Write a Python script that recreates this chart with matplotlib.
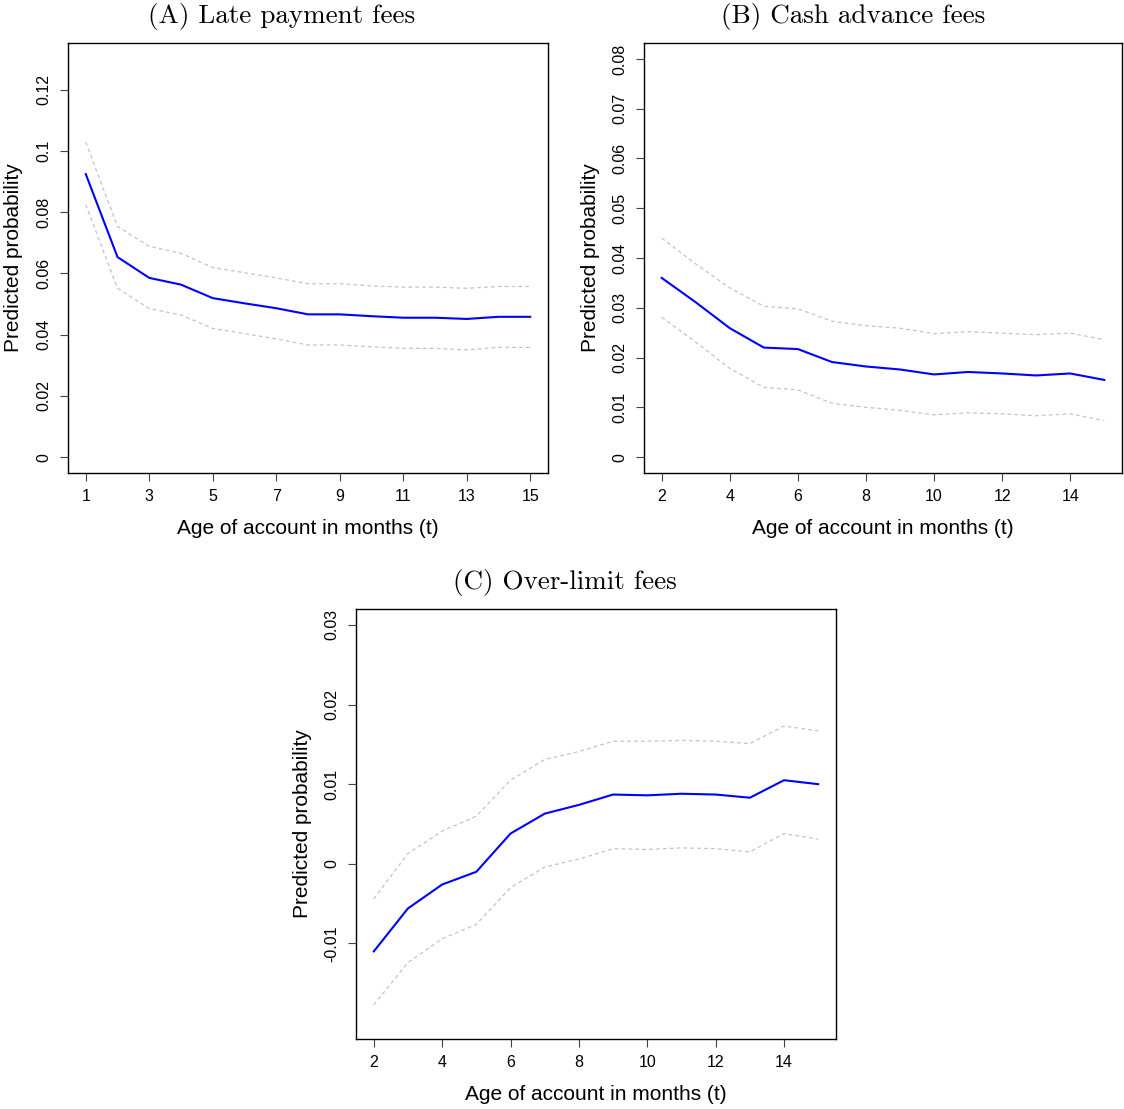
import matplotlib
matplotlib.use("Agg")
import matplotlib.pyplot as plt

plt.rcParams['font.family'] = ['Liberation Sans', 'DejaVu Sans']

# predicted probabilities by account age, with upper / lower bands
age_a = [1, 2, 3, 4, 5, 6, 7, 8, 9, 10, 11, 12, 13, 14, 15]
late_mean = [0.0924, 0.0653, 0.0585, 0.0563, 0.0519, 0.0502, 0.0486, 0.0466,
             0.0466, 0.0460, 0.0455, 0.0455, 0.0451, 0.0458, 0.0458]
late_hi = [0.1028, 0.0753, 0.0688, 0.0665, 0.0619, 0.0602, 0.0585, 0.0566,
           0.0566, 0.0559, 0.0555, 0.0555, 0.0551, 0.0557, 0.0557]
late_lo = [0.0824, 0.0551, 0.0485, 0.0464, 0.0420, 0.0403, 0.0386, 0.0366,
           0.0366, 0.0360, 0.0355, 0.0355, 0.0350, 0.0358, 0.0358]

age_b = [2, 3, 4, 5, 6, 7, 8, 9, 10, 11, 12, 13, 14, 15]
cash_mean = [0.0360, 0.0311, 0.0259, 0.0220, 0.0217, 0.0191, 0.0182, 0.0176,
             0.0166, 0.0171, 0.0168, 0.0164, 0.0168, 0.0155]
cash_hi = [0.0440, 0.0388, 0.0340, 0.0303, 0.0298, 0.0273, 0.0264, 0.0259,
           0.0248, 0.0252, 0.0249, 0.0246, 0.0249, 0.0236]
cash_lo = [0.0281, 0.0231, 0.0178, 0.0140, 0.0135, 0.0108, 0.0100, 0.0094,
           0.0085, 0.0089, 0.0087, 0.0083, 0.0087, 0.0073]

age_c = [2, 3, 4, 5, 6, 7, 8, 9, 10, 11, 12, 13, 14, 15]
over_mean = [-0.0110, -0.0056, -0.0026, -0.0010, 0.0038, 0.0063, 0.0074, 0.0087,
             0.0086, 0.0088, 0.0087, 0.0083, 0.0105, 0.0100]
over_hi = [-0.0044, 0.0013, 0.0041, 0.0060, 0.0105, 0.0131, 0.0141, 0.0154,
           0.0154, 0.0155, 0.0154, 0.0151, 0.0173, 0.0167]
over_lo = [-0.0177, -0.0124, -0.0094, -0.0076, -0.0030, -0.0004, 0.0006, 0.0019,
           0.0018, 0.0020, 0.0019, 0.0015, 0.0038, 0.0031]

titles = ["(A) Late payment fees", "(B) Cash advance fees", "(C) Over-limit fees"]
xticks = [[1, 3, 5, 7, 9, 11, 13, 15], [2, 4, 6, 8, 10, 12, 14], [2, 4, 6, 8, 10, 12, 14]]
yticks = [[0, 0.02, 0.04, 0.06, 0.08, 0.1, 0.12],
          [0, 0.01, 0.02, 0.03, 0.04, 0.05, 0.06, 0.07, 0.08],
          [-0.01, 0, 0.01, 0.02, 0.03]]
ytick_labels = [["0", "0.02", "0.04", "0.06", "0.08", "0.1", "0.12"],
                ["0", "0.01", "0.02", "0.03", "0.04", "0.05", "0.06", "0.07", "0.08"],
                ["-0.01", "0", "0.01", "0.02", "0.03"]]
yranges = [(0, 0.13), (0, 0.08), (-0.02, 0.03)]

W, H = 1124, 1109
fig = plt.figure(figsize=(W / 100, H / 100), dpi=100)


def box(l, t, w, h):
    return [l / W, 1 - (t + h) / H, w / W, h / H]


axes = [fig.add_axes(box(68, 43, 480, 430)),
        fig.add_axes(box(644, 43, 478, 430)),
        fig.add_axes(box(356, 609, 480, 430))]
# title centres in pixels (x, y from top)
title_pos = [(282, 16), (853, 16), (565, 582)]

series = [(age_a, late_mean, late_hi, late_lo),
          (age_b, cash_mean, cash_hi, cash_lo),
          (age_c, over_mean, over_hi, over_lo)]


def r_range(lo, hi):
    # R-style 4% padding on each side
    d = (hi - lo) * 0.04
    return lo - d, hi + d


for i, ax in enumerate(axes):
    x, m, hi, lo = series[i]
    ax.plot(x, hi, color='#c4c4c4', lw=0.9, ls=(0, (3, 2.5)))
    ax.plot(x, lo, color='#c4c4c4', lw=0.9, ls=(0, (3, 2.5)))
    ax.plot(x, m, color='#0000ff', lw=1.5)

    ax.set_xlim(*r_range(min(x), max(x)))
    ax.set_ylim(*r_range(*yranges[i]))
    ax.set_xticks(xticks[i])
    ax.set_yticks(yticks[i])
    ax.set_yticklabels(ytick_labels[i], rotation=90, va='center', ha='center')
    ax.tick_params(axis='both', length=5.5, width=0.8, color='#444444', labelsize=11.5)
    ax.tick_params(axis='x', pad=6.3)
    ax.tick_params(axis='y', pad=11.8)
    for s in ax.spines.values():
        s.set_linewidth(1.0)
        s.set_color('black')

    ax.set_xlabel("Age of account in months (t)", fontsize=15, va='center')
    ax.xaxis.set_label_coords(0.5, -0.129)
    ax.set_ylabel("Predicted probability", fontsize=15, va='center')
    ax.yaxis.set_label_coords(-0.1125, 0.5)

    tx, ty = title_pos[i]
    fig.text(tx / W, 1 - ty / H, titles[i], family=['cmr10', 'DejaVu Serif'],
             fontsize=19.5, ha='center', va='center')

fig.savefig("out.png", dpi=100)
